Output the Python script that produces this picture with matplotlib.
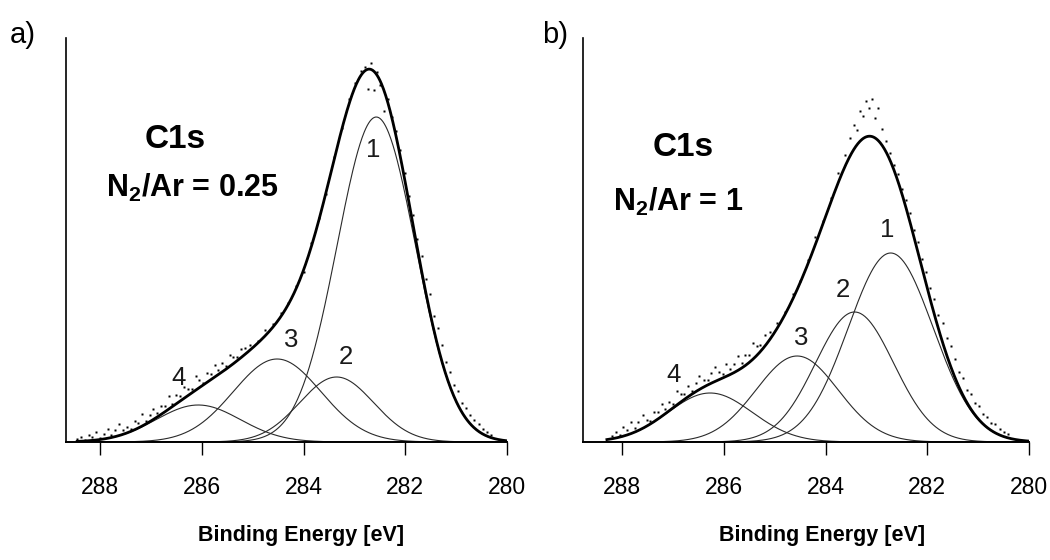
import numpy as np
import matplotlib
matplotlib.use("Agg")
import matplotlib.pyplot as plt

plt.rcParams['font.family'] = ['Liberation Sans', 'DejaVu Sans']
plt.rcParams['mathtext.fontset'] = 'custom'
plt.rcParams['mathtext.rm'] = 'Liberation Sans:bold'
plt.rcParams['mathtext.bf'] = 'Liberation Sans:bold'

# ---- fitted components: centre (eV), height (a.u.), FWHM (eV) ----
a_centres = [282.57, 283.35, 284.52, 286.07]
a_heights = [325, 65, 83, 37]
a_fwhm = [1.81, 1.71, 2.03, 1.95]
a_labels = ['1', '2', '3', '4']
a_label_be = [282.63, 283.16, 284.24, 286.46]
a_label_i = [292, 85, 102, 64]
a_range = (288.45, 280.02)

b_centres = [282.72, 283.43, 284.56, 286.27]
b_heights = [189, 130, 86, 49]
b_fwhm = [1.96, 1.81, 1.9, 1.95]
b_labels = ['1', '2', '3', '4']
b_label_be = [282.78, 283.66, 284.48, 286.99]
b_label_i = [212, 152, 104, 67]
b_range = (288.3, 280.02)

# ---- measured points: energy and deviation from the envelope ----
a_pts_be = [288.45, 288.38, 288.30, 288.22, 288.15, 288.08, 288.00, 287.92, 287.85, 287.78,
            287.70, 287.62, 287.55, 287.48, 287.40, 287.32, 287.25, 287.18, 287.10, 287.02,
            286.95, 286.88, 286.80, 286.72, 286.65, 286.58, 286.50, 286.42, 286.35, 286.28,
            286.20, 286.12, 286.05, 285.98, 285.90, 285.82, 285.75, 285.68, 285.60, 285.52,
            285.45, 285.38, 285.30, 285.22, 285.15,
            285.05, 284.90, 284.75, 284.60, 284.45, 284.30, 284.15, 284.00, 283.85, 283.70,
            283.55, 283.40, 283.25, 283.10, 282.98, 282.88, 282.80, 282.74, 282.68, 282.62,
            282.56, 282.50, 282.42, 282.34, 282.26, 282.18,
            282.10, 282.00, 281.92, 281.84, 281.76, 281.68, 281.60, 281.52, 281.44, 281.36,
            281.28, 281.20, 281.12, 281.04, 280.96, 280.88, 280.80, 280.72, 280.64, 280.56,
            280.48, 280.40, 280.32]
a_pts_dev = [2, 4, 1, 6, 3, 8, 2, 5, 9, 3,
             7, 11, 4, 6, 2, 9, 5, 12, 3, 7,
             10, 4, 8, 6, 13, 3, 9, 5, 11, 7,
             4, 14, 8, 2, 10, 6, 12, 5, 9, 3,
             11, 7, 4, 8, 6,
             5, 2, 6, 3, 4, 1, 3, -2, 4, 2,
             -3, 3, 2, 4, 3, 5, 4, -20, 6, -19,
             3, -5, -21, 4, 2, 5,
             6, 9, 8, 12, 10, 15, 13, 17, 14, 18,
             16, 13, 15, 12, 14, 10, 11, 9, 8, 7,
             5, 4, 3]

b_pts_be = [288.20, 288.12, 288.05, 287.98, 287.90, 287.82, 287.75, 287.68, 287.60, 287.52,
            287.45, 287.38, 287.30, 287.22, 287.15, 287.08, 287.00, 286.92, 286.85, 286.78,
            286.70, 286.62, 286.55, 286.48, 286.40, 286.32, 286.25, 286.18, 286.10, 286.02,
            285.95, 285.88, 285.80, 285.72, 285.65, 285.58, 285.50, 285.42, 285.35, 285.28,
            285.20,
            285.10, 284.95, 284.80, 284.65, 284.50, 284.35, 284.20, 284.05, 283.90, 283.75,
            283.62, 283.52, 283.45, 283.38, 283.32, 283.26, 283.20, 283.14, 283.08, 283.02,
            282.96, 282.90, 282.82, 282.74, 282.66, 282.58, 282.50, 282.42,
            282.34, 282.26, 282.18, 282.10, 282.02, 281.94, 281.86, 281.78, 281.70, 281.62,
            281.54, 281.46, 281.38, 281.30, 281.22, 281.14, 281.06, 280.98, 280.90, 280.82,
            280.74, 280.66, 280.58, 280.50, 280.42]
b_pts_dev = [3, 6, 2, 9, 5, 11, 4, 8, 13, 6,
             3, 10, 7, 12, 5, 9, 4, 14, 8, 6,
             11, 3, 9, 13, 7, 5, 10, 15, 8, 4,
             12, 6, 9, 14, 5, 11, 7, 16, 9, 6,
             12,
             8, 5, 3, 6, 2, 4, 7, 3, 5, 9,
             12, 18, 25, 15, 30, 22, 36, 28, 38, 20,
             33, 16, 10, 6, 4, 7, 5, 8,
             9, 7, 11, 10, 13, 12, 16, 14, 19, 17,
             20, 18, 15, 17, 13, 15, 12, 14, 10, 11,
             8, 9, 6, 5, 4]

xticks = [288, 286, 284, 282, 280]
xlabel = 'Binding Energy [eV]'


def component(x, c, h, w):
    s = w / (2 * np.sqrt(2 * np.log(2)))
    return h * np.exp(-(x - c) ** 2 / (2 * s ** 2))


def envelope(x, centres, heights, fwhm):
    return sum(component(x, c, h, w) for c, h, w in zip(centres, heights, fwhm))


fig = plt.figure(figsize=(10.5, 5.6), dpi=100)
W, H = 1050, 560


def panel(rect, xlim, centres, heights, fwhm, labels, lbe, li, rng,
          pts_be, pts_dev, title, line1, line2, t1, t2, tag_xy, xlab_x):
    ax = fig.add_axes(rect)
    x = np.linspace(rng[0], rng[1], 600)
    for c, h, w in zip(centres, heights, fwhm):
        ax.plot(x, component(x, c, h, w), color='#2a2a2a', lw=0.8)
    ax.plot(x, envelope(x, centres, heights, fwhm), color='black', lw=2.0)
    pb = np.array(pts_be)
    ax.plot(pb, envelope(pb, centres, heights, fwhm) + np.array(pts_dev), ls='none',
            marker='s', ms=1.5, color='black', mec='none')
    for lab, bx, iy in zip(labels, lbe, li):
        ax.text(bx, iy, lab, fontsize=18.5, ha='center', va='center', color='#1a1a1a')
    ax.set_xlim(*xlim)
    ax.set_ylim(0, 404)
    ax.set_xticks(xticks)
    ax.set_xticklabels([str(t) for t in xticks])
    ax.set_yticks([])
    for s in ['top', 'right']:
        ax.spines[s].set_visible(False)
    ax.spines['left'].set_linewidth(1.2)
    ax.spines['bottom'].set_linewidth(1.4)
    ax.tick_params(axis='x', direction='out', length=9.5, width=1.0, pad=15, labelsize=16.5)
    ax.set_xlabel(xlabel, fontsize=15.5, fontweight='bold')
    ax.xaxis.set_label_coords(xlab_x, -0.205)
    ax.text(t1[0], t1[1], line1, transform=ax.transAxes, fontsize=24, fontweight='bold',
            ha='center', va='center')
    ax.text(t2[0], t2[1], line2, transform=ax.transAxes, fontsize=22, fontweight='bold',
            ha='center', va='center')
    fig.text(tag_xy[0], tag_xy[1], title, fontsize=21, ha='left', va='baseline')
    return ax


# panel a: axis px 66..507, baseline 442, top 38
panel([66 / W, (H - 442) / H, (507 - 66) / W, (442 - 38) / H], (288.67, 280),
      a_centres, a_heights, a_fwhm, a_labels, a_label_be, a_label_i, a_range,
      a_pts_be, a_pts_dev, 'a)', 'C1s', r'N$_\mathrm{2}$/Ar = 0.25',
      ((175 - 66) / 441, (442 - 140) / 404), ((192 - 66) / 441, (442 - 188) / 404),
      (10 / W, (H - 43) / H), (301 - 66) / 441)

# panel b: axis px 583..1029
panel([583 / W, (H - 442) / H, (1029 - 583) / W, (442 - 38) / H], (288.77, 280),
      b_centres, b_heights, b_fwhm, b_labels, b_label_be, b_label_i, b_range,
      b_pts_be, b_pts_dev, 'b)', 'C1s', r'N$_\mathrm{2}$/Ar = 1',
      ((683 - 583) / 446, (442 - 147) / 404), ((678 - 583) / 446, (442 - 202) / 404),
      (542 / W, (H - 43) / H), (822 - 583) / 446)

fig.savefig('out.png', dpi=100)
